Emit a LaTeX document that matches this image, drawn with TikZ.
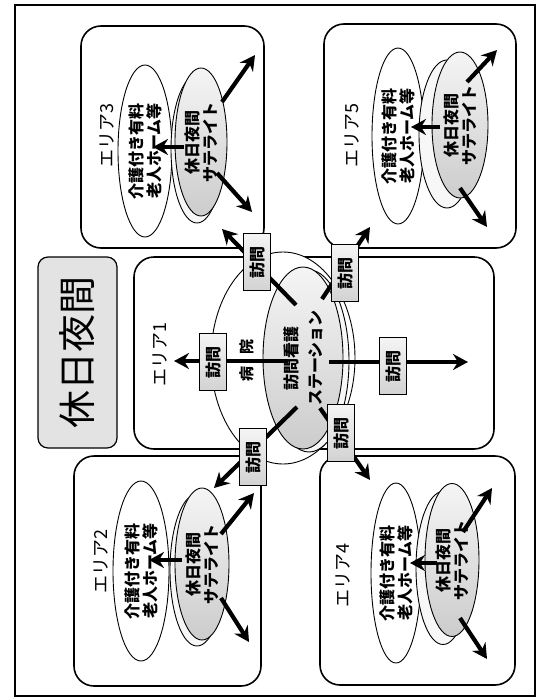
\documentclass[tikz,border=0pt]{standalone}
\usepackage{fontspec}
\setmainfont{Noto Sans CJK JP}
\usetikzlibrary{shapes.geometric, arrows.meta, positioning}

\begin{document}
\begin{tikzpicture}[x=1pt, y=-1pt,
    areabox/.style={draw, line width=1.6pt, rounded corners=20pt, fill=white},
    titlebox/.style={draw, line width=1.2pt, rounded corners=10pt, rotate=90, fill=gray!22},
    visitbox/.style={draw, line width=1pt, rotate=90, minimum width=57pt, minimum height=27pt,
        inner sep=0pt, top color=gray!8, bottom color=gray!35,
        font=\bfseries\fontsize{16}{16}\selectfont},
    homeell/.style={draw, ellipse, line width=0.9pt, fill=white, rotate=90, inner sep=0pt,
        align=center, font=\bfseries\fontsize{16}{18}\selectfont},
    satell/.style={homeell, top color=gray!8, bottom color=gray!40},
    backell/.style={draw, ellipse, line width=0.9pt, fill=gray!6, rotate=90},
    arealbl/.style={rotate=90, font=\fontsize{18}{18}\selectfont},
    arr/.style={line width=4.2pt, -{Stealth[length=15pt, width=16pt, inset=5pt]}},
]
    \useasboundingbox (0,0) rectangle (538,699);

    % Outer frame of the whole sheet
    \draw[line width=2pt] (15,5) rectangle (535,696);

    % Rounded boxes of the five areas
    \draw[areabox] (81,26) rectangle (264,248);   % area 3
    \draw[areabox] (324,24) rectangle (516,248);  % area 5
    \draw[areabox] (134,257) rectangle (494,449); % area 1
    \draw[areabox] (74,456) rectangle (261,686);  % area 2
    \draw[areabox] (320,456) rectangle (515,685); % area 4

    % Title
    \node[titlebox, minimum width=191pt, minimum height=79pt,
          font=\fontsize{38}{38}\selectfont] (title) at (77.5,352.5) {休日夜間};

    % Area 1: hospital with the home-visit nursing station
    \node[arealbl] (lbl1) at (160,354) {エリア1};
    \node[draw, ellipse, line width=0.9pt, fill=white, minimum width=144pt,
          minimum height=212pt] (hosp) at (283,358) {};
    \node[rotate=90, font=\bfseries\fontsize{15}{15}\selectfont] (hosplbl) at (247,360) {病\hspace{0.8em}院};
    \node[backell, minimum width=182pt, minimum height=80pt] (stback) at (309,361) {};
    \node[satell, minimum width=182pt, minimum height=80pt,
          font=\bfseries\fontsize{16}{24}\selectfont] (station) at (303,358) {訪問看護\\ステーション};

    % Visits going out of the station
    \coordinate (sL) at (288,361);  \coordinate (tL) at (174,361);
    \coordinate (sR) at (329,362);  \coordinate (tR) at (468,362);
    \coordinate (sUL) at (296,305); \coordinate (tUL) at (222,229);
    \coordinate (sUR) at (322,299); \coordinate (tUR) at (370,227);
    \coordinate (sDL) at (297,407); \coordinate (tDL) at (214,488);
    \coordinate (sDR) at (320,408); \coordinate (tDR) at (370,480);
    \draw[arr] (sL) -- (tL);
    \draw[arr] (sR) -- (tR);
    \draw[arr] (sUL) -- (tUL);
    \draw[arr] (sUR) -- (tUR);
    \draw[arr] (sDL) -- (tDL);
    \draw[arr] (sDR) -- (tDR);
    \node[visitbox] (v1) at (213,362) {訪問};
    \node[visitbox] (v2) at (393,366) {訪問};
    \node[visitbox] (v3) at (257,262) {訪問};
    \node[visitbox] (v4) at (345,273) {訪問};
    \node[visitbox] (v5) at (253,457) {訪問};
    \node[visitbox] (v6) at (341,433) {訪問};

    % Area 3
    \node[arealbl] (lbl3) at (107,136) {エリア3};
    \node[homeell, minimum width=172pt, minimum height=54pt] (home3) at (145,151) {介護付き有料\\老人ホーム等};
    \node[backell, minimum width=148pt, minimum height=52pt] (back3) at (197,149) {};
    \node[satell, minimum width=148pt, minimum height=52pt] (sat3) at (201,142) {休日夜間\\サテライト};
    \coordinate (a3s) at (184,147);  \coordinate (a3t) at (153,147);
    \coordinate (u3s) at (222,102);  \coordinate (u3t) at (255,55);
    \coordinate (d3s) at (217,173);  \coordinate (d3t) at (252,212);
    \draw[arr] (a3s) -- (a3t);
    \draw[arr] (u3s) -- (u3t);
    \draw[arr] (d3s) -- (d3t);

    % Area 5
    \node[arealbl] (lbl5) at (352,136) {エリア5};
    \node[homeell, minimum width=176pt, minimum height=52pt] (home5) at (398,136) {介護付き有料\\老人ホーム等};
    \node[backell, minimum width=148pt, minimum height=56pt] (back5) at (447,134) {};
    \node[satell, minimum width=146pt, minimum height=56pt] (sat5) at (460,125) {休日夜間\\サテライト};
    \coordinate (a5s) at (440,127);  \coordinate (a5t) at (411,127);
    \coordinate (u5s) at (467,82);   \coordinate (u5t) at (497,50);
    \coordinate (d5s) at (460,188);  \coordinate (d5t) at (487,227);
    \draw[arr] (a5s) -- (a5t);
    \draw[arr] (u5s) -- (u5t);
    \draw[arr] (d5s) -- (d5t);

    % Area 2
    \node[arealbl] (lbl2) at (101,561) {エリア2};
    \node[homeell, minimum width=180pt, minimum height=56pt] (home2) at (141,571) {介護付き有料\\老人ホーム等};
    \node[backell, minimum width=152pt, minimum height=54pt] (back2) at (197,570) {};
    \node[satell, minimum width=152pt, minimum height=54pt] (sat2) at (202,564) {休日夜間\\サテライト};
    \coordinate (a2s) at (182,560);  \coordinate (a2t) at (149,560);
    \coordinate (u2s) at (221,534);  \coordinate (u2t) at (254,493);
    \coordinate (d2s) at (221,598);  \coordinate (d2t) at (249,642);
    \draw[arr] (a2s) -- (a2t);
    \draw[arr] (u2s) -- (u2t);
    \draw[arr] (d2s) -- (d2t);

    % Area 4
    \node[arealbl] (lbl4) at (343,575) {エリア4};
    \node[homeell, minimum width=180pt, minimum height=50pt] (home4) at (396,573) {介護付き有料\\老人ホーム等};
    \node[backell, minimum width=153pt, minimum height=54pt] (back4) at (443,568) {};
    \node[satell, minimum width=153pt, minimum height=54pt] (sat4) at (452,560) {休日夜間\\サテライト};
    \coordinate (a4s) at (437,563);  \coordinate (a4t) at (410,563);
    \coordinate (u4s) at (463,532);  \coordinate (u4t) at (492,488);
    \coordinate (d4s) at (460,618);  \coordinate (d4t) at (487,659);
    \draw[arr] (a4s) -- (a4t);
    \draw[arr] (u4s) -- (u4t);
    \draw[arr] (d4s) -- (d4t);

\end{tikzpicture}
\end{document}
